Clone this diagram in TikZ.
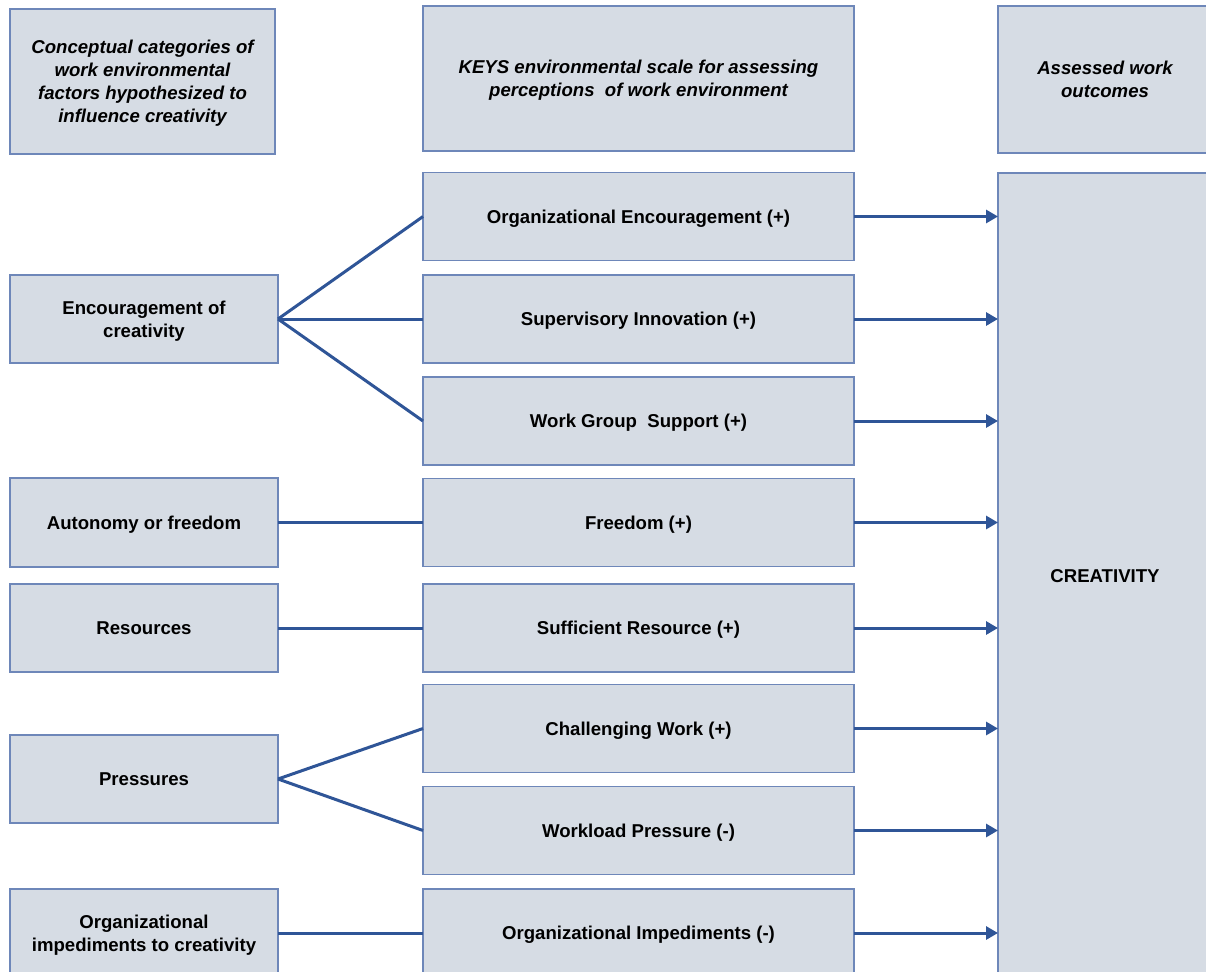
\documentclass[tikz,border=0pt]{standalone}
\usepackage{fontspec}
\setmainfont{Liberation Sans}
\usetikzlibrary{arrows.meta}
\definecolor{boxfill}{HTML}{D6DCE4}
\definecolor{boxline}{HTML}{6E87B9}
\definecolor{linkcol}{HTML}{2F5597}
\tikzset{
  box/.style={draw=boxline, fill=boxfill, line width=1.5pt, rectangle,
    inner sep=4pt, outer sep=0pt, align=center, text depth=0pt,
    font=\fontsize{18.6}{23}\selectfont\bfseries},
  headbox/.style={box, font=\fontsize{18.6}{23}\selectfont\bfseries\itshape},
  link/.style={draw=linkcol, line width=3pt},
  arrowlink/.style={link, -{Triangle[length=12pt,width=13pt]}}
}
\begin{document}
\begin{tikzpicture}[x=1pt, y=-1pt]
\useasboundingbox (0,0) rectangle (1206,971);

% column headings
\node[headbox, minimum width=265, minimum height=145] (h1) at (142.5,81.5)
  {Conceptual categories of\\work environmental\\factors hypothesized to\\influence creativity};
\node[headbox, minimum width=431, minimum height=145] (h2) at (638.5,78.5)
  {KEYS environmental scale for assessing\\perceptions\ \ of work environment};
\node[headbox, minimum width=214, minimum height=147] (h3) at (1105,79.5)
  {Assessed work\\outcomes};

% conceptual categories
\node[box, minimum width=268, minimum height=88] (enc) at (144,319) {Encouragement of\\creativity};
\node[box, minimum width=268, minimum height=89] (aut) at (144,522.5) {Autonomy or freedom};
\node[box, minimum width=268, minimum height=88] (res) at (144,628) {Resources};
\node[box, minimum width=268, minimum height=88] (pre) at (144,779) {Pressures};
\node[box, minimum width=268, minimum height=88] (imp) at (144,933) {Organizational\\impediments to creativity};

% KEYS scales
\node[box, minimum width=431, minimum height=88] (oe) at (638.5,216.5) {Organizational Encouragement (+)};
\node[box, minimum width=431, minimum height=88] (si) at (638.5,319) {Supervisory Innovation (+)};
\node[box, minimum width=431, minimum height=88] (wg) at (638.5,421) {Work Group\ \ Support (+)};
\node[box, minimum width=431, minimum height=88] (fr) at (638.5,522.5) {Freedom (+)};
\node[box, minimum width=431, minimum height=88] (sr) at (638.5,628) {Sufficient Resource (+)};
\node[box, minimum width=431, minimum height=88] (cw) at (638.5,728.5) {Challenging Work (+)};
\node[box, minimum width=431, minimum height=88] (wp) at (638.5,830.5) {Workload Pressure (-)};
\node[box, minimum width=431, minimum height=88] (oi) at (638.5,933) {Organizational Impediments (-)};

% outcome
\node[box, minimum width=214, minimum height=806] (cr) at (1105,576) {CREATIVITY};

% categories to scales
\draw[link] (enc.east) -- (oe.west);
\draw[link] (enc.east) -- (si.west);
\draw[link] (enc.east) -- (wg.west);
\draw[link] (aut.east) -- (fr.west);
\draw[link] (res.east) -- (sr.west);
\draw[link] (pre.east) -- (cw.west);
\draw[link] (pre.east) -- (wp.west);
\draw[link] (imp.east) -- (oi.west);

% scales to creativity
\foreach \s in {oe,si,wg,fr,sr,cw,wp,oi}
  \draw[arrowlink] (\s.east) -- (\s.east -| cr.west);
\end{tikzpicture}
\end{document}
